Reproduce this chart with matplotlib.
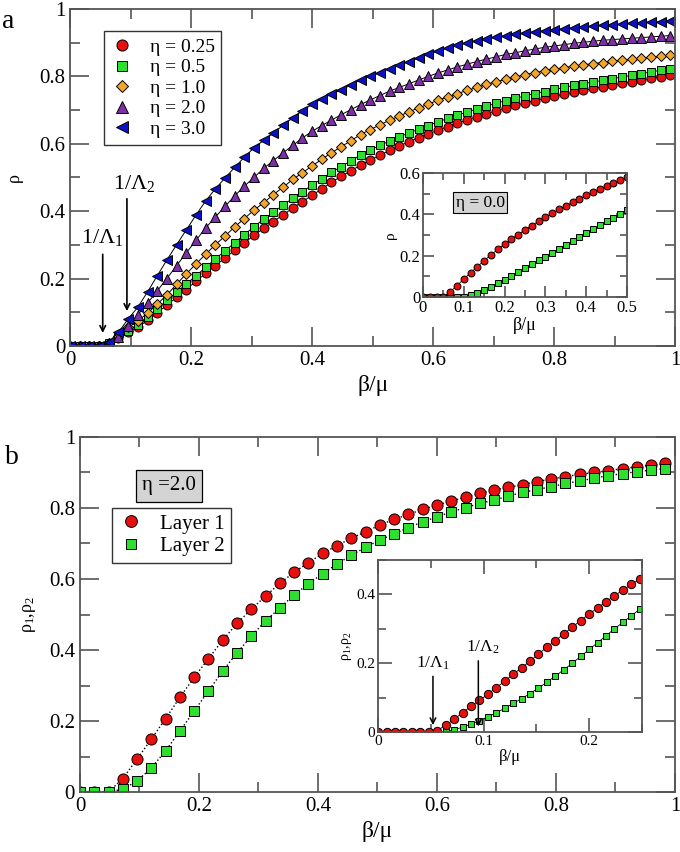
import matplotlib
matplotlib.use('Agg')
import matplotlib.pyplot as plt
import numpy as np
from matplotlib.lines import Line2D
from matplotlib.ticker import MultipleLocator, FuncFormatter

plt.rcParams['font.family'] = ['Liberation Serif', 'DejaVu Serif']
plt.rcParams['mathtext.fontset'] = 'stix'

# ---- data, panel a ----
beta_a = [0.016 * k for k in range(63)]
rho_025 = [0, 0, 0, 0, 0.007, 0.022, 0.040, 0.055, 0.076, 0.098, 0.121, 0.144, 0.167, 0.192,
           0.215, 0.238, 0.261, 0.284, 0.306, 0.328, 0.349, 0.369, 0.389, 0.409, 0.428, 0.447,
           0.466, 0.486, 0.503, 0.520, 0.536, 0.551, 0.566, 0.580, 0.593, 0.606, 0.618, 0.629,
           0.640, 0.651, 0.661, 0.671, 0.680, 0.689, 0.698, 0.706, 0.714, 0.721, 0.728, 0.735,
           0.741, 0.747, 0.753, 0.758, 0.764, 0.769, 0.774, 0.779, 0.784, 0.789, 0.794, 0.799, 0.804]
rho_05 = [0, 0, 0, 0, 0.008, 0.025, 0.045, 0.062, 0.086, 0.110, 0.135, 0.159, 0.184, 0.208,
          0.233, 0.258, 0.282, 0.306, 0.330, 0.354, 0.376, 0.397, 0.418, 0.438, 0.458, 0.477,
          0.496, 0.515, 0.532, 0.549, 0.566, 0.581, 0.595, 0.608, 0.620, 0.632, 0.643, 0.654,
          0.665, 0.675, 0.685, 0.694, 0.703, 0.712, 0.720, 0.728, 0.735, 0.742, 0.749, 0.755,
          0.761, 0.767, 0.773, 0.778, 0.783, 0.788, 0.793, 0.798, 0.803, 0.808, 0.813, 0.818, 0.823]
rho_10 = [0, 0, 0, 0, 0.010, 0.030, 0.055, 0.074, 0.097, 0.124, 0.151, 0.183, 0.214, 0.243,
          0.272, 0.300, 0.326, 0.353, 0.378, 0.403, 0.425, 0.449, 0.471, 0.494, 0.514, 0.534,
          0.554, 0.573, 0.591, 0.609, 0.627, 0.642, 0.656, 0.670, 0.682, 0.695, 0.706, 0.718,
          0.729, 0.739, 0.749, 0.758, 0.767, 0.776, 0.784, 0.791, 0.798, 0.805, 0.811, 0.816,
          0.821, 0.826, 0.830, 0.834, 0.838, 0.841, 0.845, 0.848, 0.851, 0.854, 0.857, 0.860, 0.863]
rho_20 = [0, 0, 0, 0, 0.008, 0.027, 0.060, 0.092, 0.127, 0.163, 0.200, 0.238, 0.276, 0.313,
          0.350, 0.382, 0.414, 0.445, 0.474, 0.500, 0.527, 0.550, 0.573, 0.595, 0.617, 0.637,
          0.654, 0.670, 0.686, 0.701, 0.716, 0.730, 0.743, 0.756, 0.767, 0.778, 0.789, 0.800,
          0.810, 0.819, 0.828, 0.836, 0.844, 0.851, 0.858, 0.865, 0.870, 0.876, 0.881, 0.886,
          0.890, 0.894, 0.898, 0.901, 0.904, 0.907, 0.909, 0.911, 0.913, 0.915, 0.917, 0.919, 0.921]
rho_30 = [0, 0, 0, 0, 0.012, 0.040, 0.080, 0.115, 0.160, 0.208, 0.255, 0.300, 0.344, 0.388,
          0.430, 0.466, 0.498, 0.530, 0.560, 0.588, 0.610, 0.632, 0.655, 0.677, 0.698, 0.717,
          0.733, 0.747, 0.760, 0.774, 0.789, 0.800, 0.811, 0.823, 0.835, 0.843, 0.855, 0.866,
          0.875, 0.884, 0.892, 0.899, 0.906, 0.911, 0.916, 0.921, 0.925, 0.929, 0.932, 0.935,
          0.938, 0.941, 0.944, 0.946, 0.949, 0.951, 0.953, 0.955, 0.957, 0.959, 0.961, 0.962, 0.964]

# inset a (eta = 0.0)
beta_ia = [k / 60 for k in range(31)]
rho_ia_1 = [0, 0, 0, 0, 0.025, 0.055, 0.087, 0.117, 0.147, 0.176, 0.204, 0.230, 0.256, 0.280,
            0.302, 0.325, 0.346, 0.366, 0.386, 0.406, 0.424, 0.441, 0.458, 0.475, 0.492, 0.507,
            0.522, 0.537, 0.551, 0.565, 0.580]
rho_ia_2 = [0, 0, 0, 0, 0, 0, 0, 0.010, 0.021, 0.034, 0.050, 0.066, 0.084, 0.102, 0.120,
            0.139, 0.158, 0.177, 0.196, 0.215, 0.234, 0.253, 0.272, 0.291, 0.310, 0.329, 0.347,
            0.366, 0.384, 0.402, 0.420]

# ---- data, panel b (eta = 2.0) ----
beta_b = [0.024 * k for k in range(42)]
rho_layer1 = [0, 0, 0, 0.038, 0.093, 0.149, 0.207, 0.267, 0.323, 0.376, 0.428, 0.475, 0.515,
              0.552, 0.588, 0.619, 0.646, 0.672, 0.694, 0.715, 0.733, 0.752, 0.768, 0.782,
              0.796, 0.808, 0.820, 0.830, 0.841, 0.851, 0.858, 0.866, 0.874, 0.882, 0.888,
              0.895, 0.900, 0.905, 0.911, 0.916, 0.921, 0.926]
rho_layer2 = [0, 0, 0, 0.008, 0.031, 0.068, 0.116, 0.172, 0.228, 0.285, 0.341, 0.392, 0.439,
              0.482, 0.519, 0.555, 0.587, 0.615, 0.642, 0.667, 0.689, 0.710, 0.727, 0.745,
              0.761, 0.775, 0.789, 0.801, 0.813, 0.822, 0.834, 0.844, 0.852, 0.860, 0.869,
              0.876, 0.884, 0.891, 0.897, 0.902, 0.907, 0.911]

beta_ib = [0.008 * k for k in range(32)]
rho_ib_1 = [0, 0, 0, 0, 0, 0, 0, 0.004, 0.020, 0.037, 0.056, 0.075, 0.092, 0.110, 0.129,
            0.148, 0.168, 0.187, 0.206, 0.227, 0.247, 0.266, 0.285, 0.305, 0.324, 0.343,
            0.361, 0.379, 0.396, 0.413, 0.429, 0.444]
rho_ib_2 = [0, 0, 0, 0, 0, 0, 0, 0, 0.002, 0.007, 0.014, 0.023, 0.033, 0.044, 0.056, 0.069,
            0.083, 0.097, 0.112, 0.128, 0.145, 0.163, 0.181, 0.200, 0.220, 0.240, 0.260,
            0.280, 0.300, 0.319, 0.338, 0.357]

RED = '#e8100f'
GREEN = '#2ee02e'
ORANGE = '#f4a62a'
PURPLE = '#7e2fa6'
BLUE = '#0c12c4'
AXCOL = '#555555'

RHO12 = r'$\mathregular{\rho_1,\!\rho_2}$'
LAM1 = r'$\mathregular{1/\Lambda_1}$'
LAM2 = r'$\mathregular{1/\Lambda_2}$'


def fmt(v, pos):
    if abs(v - round(v)) < 1e-9:
        return '%d' % round(v)
    return ('%.2f' % v).rstrip('0')


def style_axes(ax, major_len, minor_len, labelsize, xmaj, xmin, ymaj, ymin):
    for s in ax.spines.values():
        s.set_color(AXCOL)
        s.set_linewidth(1.3)
    ax.xaxis.set_major_locator(MultipleLocator(xmaj))
    ax.xaxis.set_minor_locator(MultipleLocator(xmin))
    ax.yaxis.set_major_locator(MultipleLocator(ymaj))
    ax.yaxis.set_minor_locator(MultipleLocator(ymin))
    ax.xaxis.set_major_formatter(FuncFormatter(fmt))
    ax.yaxis.set_major_formatter(FuncFormatter(fmt))
    ax.tick_params(which='both', direction='in', top=True, right=True, color=AXCOL,
                   width=1.2, labelsize=labelsize)
    ax.tick_params(which='major', length=major_len)
    ax.tick_params(which='minor', length=minor_len)


def series(ax, x, y, marker, color, ms, ls='-', lw=0.7):
    ax.plot(x, y, linestyle=ls, color='k', linewidth=lw, marker=marker, markersize=ms,
            markerfacecolor=color, markeredgecolor='k', markeredgewidth=0.7)


fig = plt.figure(figsize=(6.8, 8.52), dpi=100)

# ---------------- panel a ----------------
ax1 = fig.add_axes([0.103, 0.594, 0.890, 0.3955])
series(ax1, beta_a, rho_025, 'o', RED, 6.5)
series(ax1, beta_a, rho_05, 's', GREEN, 5.8)
series(ax1, beta_a, rho_10, 'D', ORANGE, 5.2)
series(ax1, beta_a, rho_20, '^', PURPLE, 7)
series(ax1, beta_a, rho_30, '<', BLUE, 7)
ax1.set_xlim(0, 1)
ax1.set_ylim(0, 1)
style_axes(ax1, 14, 7, 15, 0.2, 0.1, 0.2, 0.1)
ax1.set_xlabel('β/μ', fontsize=17, labelpad=4)
ax1.set_ylabel('ρ', fontsize=13, labelpad=12)

handles = [
    Line2D([], [], ls='none', marker='o', ms=8, mfc=RED, mec='k', mew=0.7),
    Line2D([], [], ls='none', marker='s', ms=7, mfc=GREEN, mec='k', mew=0.7),
    Line2D([], [], ls='none', marker='D', ms=6.5, mfc=ORANGE, mec='k', mew=0.7),
    Line2D([], [], ls='none', marker='^', ms=8.5, mfc=PURPLE, mec='k', mew=0.7),
    Line2D([], [], ls='none', marker='<', ms=8.5, mfc=BLUE, mec='k', mew=0.7),
]
labels = ['η = 0.25', 'η = 0.5', 'η = 1.0', 'η = 2.0', 'η = 3.0']
leg = ax1.legend(handles, labels, loc='upper left', bbox_to_anchor=(0.04, 0.962),
                 fontsize=14, frameon=True, fancybox=False, edgecolor='k',
                 handletextpad=0.8, borderpad=0.35, labelspacing=0.15, handlelength=1.2)
leg.get_frame().set_linewidth(1.0)

ax1.annotate('', xy=(0.054, 0.03), xytext=(0.054, 0.28),
             arrowprops=dict(arrowstyle='->', color='k', lw=1.2))
ax1.text(0.054, 0.29, LAM1, fontsize=16, ha='center', va='bottom')
ax1.annotate('', xy=(0.094, 0.095), xytext=(0.094, 0.445),
             arrowprops=dict(arrowstyle='->', color='k', lw=1.2))
ax1.text(0.106, 0.45, LAM2, fontsize=16, ha='center', va='bottom')
fig.text(0.003, 0.99, 'a', fontsize=20, va='top', ha='left')

# inset a
ia = fig.add_axes([0.622, 0.6514, 0.300, 0.1455])
series(ia, beta_ia, rho_ia_2, 's', GREEN, 4.3, lw=0.6)
series(ia, beta_ia, rho_ia_1, 'o', RED, 5, lw=0.6)
ia.set_xlim(0, 0.5)
ia.set_ylim(0, 0.6)
style_axes(ia, 8, 5, 12, 0.1, 0.05, 0.2, 0.1)
ia.set_xlabel('β/μ', fontsize=13, labelpad=1)
ia.set_ylabel('ρ', fontsize=11, labelpad=2)
ia.tick_params(axis='both', pad=2)
ia.text(0.14, 0.457, 'η = 0.0', fontsize=12.5, ha='center', va='center',
        bbox=dict(boxstyle='square,pad=0.15', facecolor='#d4d4d4', edgecolor='k', lw=0.8))

# ---------------- panel b ----------------
ax2 = fig.add_axes([0.1176, 0.0704, 0.875, 0.4167])
series(ax2, beta_b, rho_layer1, 'o', RED, 8, ls=':', lw=1.0)
series(ax2, beta_b, rho_layer2, 's', GREEN, 6.8, ls=':', lw=1.0)
ax2.set_xlim(0, 1)
ax2.set_ylim(0, 1)
style_axes(ax2, 14, 7, 15, 0.2, 0.1, 0.2, 0.1)
ax2.set_xlabel('β/μ', fontsize=17, labelpad=4)
ax2.set_ylabel(RHO12, fontsize=13, labelpad=8)

handles_b = [
    Line2D([], [], ls='none', marker='o', ms=8.5, mfc=RED, mec='k', mew=0.7),
    Line2D([], [], ls='none', marker='s', ms=7, mfc=GREEN, mec='k', mew=0.7),
]
leg2 = ax2.legend(handles_b, ['Layer 1', 'Layer 2'], loc='upper left',
                  bbox_to_anchor=(0.036, 0.83), fontsize=15, frameon=True, fancybox=False,
                  edgecolor='k', handletextpad=0.8, borderpad=0.3, labelspacing=0.15,
                  handlelength=1.2)
leg2.get_frame().set_linewidth(1.0)
ax2.text(0.15, 0.862, 'η =2.0', fontsize=15, ha='center', va='center',
         bbox=dict(boxstyle='square,pad=0.3', facecolor='#d4d4d4', edgecolor='k', lw=0.9))
fig.text(0.008, 0.478, 'b', fontsize=20, va='top', ha='left')

# inset b
ib = fig.add_axes([0.556, 0.1408, 0.388, 0.2019])
series(ib, beta_ib, rho_ib_2, 's', GREEN, 5, lw=0.6)
series(ib, beta_ib, rho_ib_1, 'o', RED, 6, lw=0.6)
ib.set_xlim(0, 0.25)
ib.set_ylim(0, 0.5)
style_axes(ib, 10, 6, 11, 0.1, 0.05, 0.2, 0.1)
ib.set_xlabel('β/μ', fontsize=12, labelpad=1)
ib.set_ylabel(RHO12, fontsize=10, labelpad=2)
ib.tick_params(axis='both', pad=2)
ib.annotate('', xy=(0.052, 0.012), xytext=(0.052, 0.17),
            arrowprops=dict(arrowstyle='->', color='k', lw=1.1))
ib.text(0.052, 0.175, LAM1, fontsize=12.5, ha='center', va='bottom')
ib.annotate('', xy=(0.095, 0.008), xytext=(0.095, 0.215),
            arrowprops=dict(arrowstyle='->', color='k', lw=1.1))
ib.text(0.099, 0.22, LAM2, fontsize=12.5, ha='center', va='bottom')

fig.savefig('out.png', dpi=100)
